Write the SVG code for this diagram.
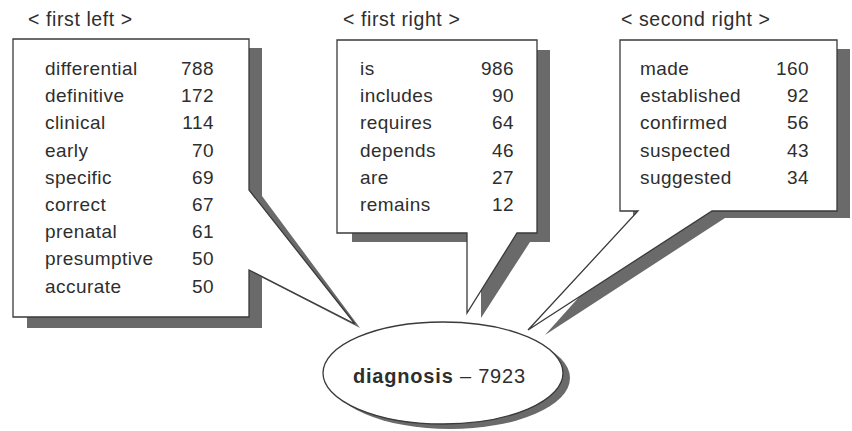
<svg xmlns="http://www.w3.org/2000/svg" width="852" height="431" viewBox="0 0 852 431">
<style>
.sh{fill:#6a6a6a;stroke:none}
.bx{fill:#fff;stroke:#3a3a3a;stroke-width:1.3;stroke-linejoin:miter}
text{font-family:"Liberation Sans",Arial,sans-serif;fill:#2e2e2e}
.t{font-size:19px;letter-spacing:0.45px}
.n{font-size:19px;letter-spacing:0.45px;text-anchor:end}
.h{font-size:19.5px;letter-spacing:0.6px}
.e{font-size:20px;letter-spacing:0.8px}
</style>
<rect width="852" height="431" fill="#fff"/>
<g id="first-left">
<text class="h" x="28" y="26">&lt; first left &gt;</text>
<path class="sh" d="M27,48 H262 V196 L360,328 L249,271 L262,271 V328 H27 Z"/>
<path class="bx" d="M13,39 H249 V190 L355,324 L249,270 V317 H13 Z"/>
<text class="t" x="45" y="75">differential</text><text class="n" x="214" y="75">788</text>
<text class="t" x="45" y="102.2">definitive</text><text class="n" x="214" y="102.2">172</text>
<text class="t" x="45" y="129.4">clinical</text><text class="n" x="214" y="129.4">114</text>
<text class="t" x="45" y="156.6">early</text><text class="n" x="214" y="156.6">70</text>
<text class="t" x="45" y="183.8">specific</text><text class="n" x="214" y="183.8">69</text>
<text class="t" x="45" y="211">correct</text><text class="n" x="214" y="211">67</text>
<text class="t" x="45" y="238.2">prenatal</text><text class="n" x="214" y="238.2">61</text>
<text class="t" x="45" y="265.4">presumptive</text><text class="n" x="214" y="265.4">50</text>
<text class="t" x="45" y="292.6">accurate</text><text class="n" x="214" y="292.6">50</text>
</g>
<g id="first-right">
<text class="h" x="343" y="26">&lt; first right &gt;</text>
<path class="sh" d="M352,50 H550 V242 H530 L481,318 V242 H352 Z"/>
<path class="bx" d="M337,40 H537 V233 H517 L467,313 V233 H337 Z"/>
<text class="t" x="360" y="75">is</text><text class="n" x="514" y="75">986</text>
<text class="t" x="360" y="102.2">includes</text><text class="n" x="514" y="102.2">90</text>
<text class="t" x="360" y="129.4">requires</text><text class="n" x="514" y="129.4">64</text>
<text class="t" x="360" y="156.6">depends</text><text class="n" x="514" y="156.6">46</text>
<text class="t" x="360" y="183.8">are</text><text class="n" x="514" y="183.8">27</text>
<text class="t" x="360" y="211">remains</text><text class="n" x="514" y="211">12</text>
</g>
<g id="second-right">
<text class="h" x="621" y="26">&lt; second right &gt;</text>
<path class="sh" d="M633,49 H850 V218 H725 L545,335 L650,218 H633 Z"/>
<path class="bx" d="M620,40 H837 V211 H712 L528,330 L638,211 H620 Z"/>
<text class="t" x="640" y="75">made</text><text class="n" x="809" y="75">160</text>
<text class="t" x="640" y="102.2">established</text><text class="n" x="809" y="102.2">92</text>
<text class="t" x="640" y="129.4">confirmed</text><text class="n" x="809" y="129.4">56</text>
<text class="t" x="640" y="156.6">suspected</text><text class="n" x="809" y="156.6">43</text>
<text class="t" x="640" y="183.8">suggested</text><text class="n" x="809" y="183.8">34</text>
</g>
<g id="connectors"></g>
<g id="diagnosis">
<ellipse class="sh" cx="450" cy="378" rx="120" ry="51"/>
<ellipse class="bx" cx="443" cy="373" rx="120" ry="51"/>
<text class="e" x="353" y="383"><tspan font-weight="bold">diagnosis</tspan> – 7923</text>
</g>
</svg>
